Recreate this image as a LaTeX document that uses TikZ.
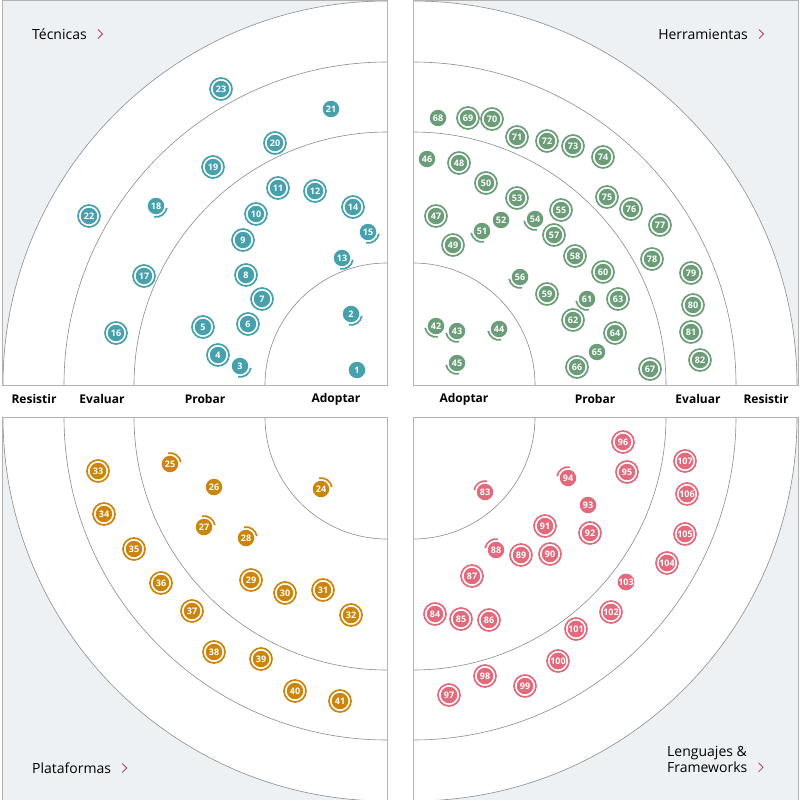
\documentclass[tikz,border=0pt]{standalone}
\usepackage{fontspec}
\setmainfont{Open Sans}
\definecolor{tech}{HTML}{47A1AD}
\definecolor{tool}{HTML}{6B9E78}
\definecolor{plat}{HTML}{CC850A}
\definecolor{lang}{HTML}{E16A7C}
\definecolor{quadbg}{HTML}{EDF1F3}
\definecolor{chevred}{HTML}{BD4257}
\tikzset{
  blip/.style={circle,fill=#1,text=white,inner sep=0pt,minimum size=16.5pt,
    font=\bfseries\fontsize{9}{9}\selectfont},
  ringline/.style={draw=#1,line width=1.7pt},
  ringarc/.style={draw=black!45,line width=0.6pt},
  quadedge/.style={draw=black!30,line width=0.8pt},
  ringlbl/.style={font=\bfseries\fontsize{12}{12}\selectfont,inner sep=0pt},
  quadtitle/.style={font=\fontsize{14}{16}\selectfont,anchor=west,align=left,inner sep=0pt},
  chevron/.style={draw=chevred,line width=0.8pt},
}
\newcommand{\radarquad}[3]{%
  \begin{scope}
    \clip #1 rectangle #2;
    \fill[quadbg] #1 rectangle #2;
    \fill[white] #3 circle[radius=384pt];
    \foreach \r in {122,253,323,384} \draw[ringarc] #3 circle[radius=\r pt];
  \end{scope}
  \draw[quadedge] #1 rectangle #2;}
\newcommand{\chev}[2][-4.5]{\draw[chevron] ([shift={(11,#1)}]#2) -- ++(4.5,4.5) -- ++(-4.5,4.5);}
\begin{document}
\begin{tikzpicture}[x=1pt,y=-1pt]
  \useasboundingbox (0,0) rectangle (800,800);
  \radarquad{(2,0)}{(387,385)}{(387,385)}
  \radarquad{(413,0)}{(798,385)}{(413,385)}
  \radarquad{(2,417)}{(387,802)}{(387,417)}
  \radarquad{(413,417)}{(798,802)}{(413,417)}

  \node[ringlbl] (lres) at (34,399) {Resistir};
  \node[ringlbl] (leva) at (102,399) {Evaluar};
  \node[ringlbl] (lpro) at (205,399) {Probar};
  \node[ringlbl] (lado) at (336,399) {Adoptar};
  \node[ringlbl] (rado) at (464,399) {Adoptar};
  \node[ringlbl] (rpro) at (595,399) {Probar};
  \node[ringlbl] (reva) at (698,399) {Evaluar};
  \node[ringlbl] (rres) at (766,399) {Resistir};

  \node[quadtitle] (ttech) at (32,34) {Técnicas};
  \node[quadtitle,anchor=east] (ttool) at (748,34) {Herramientas};
  \node[quadtitle] (tplat) at (32,768) {Plataformas};
  \node[quadtitle,anchor=north west] (tlang) at (667,746) {Lenguajes \&\\Frameworks};
  \chev{ttech.east}
  \chev{ttool.east}
  \chev{tplat.east}
  \chev[-10]{tlang.south east}

  % Tecnicas
  \foreach \n/\x/\y in {21/331/109,1/357/370}
    \node[blip=tech] (b\n) at (\x,\y) {\n};
  \foreach \n/\x/\y in {23/221/89,20/275/143,19/213/167,11/278/188,12/315/191,
      14/353/207,22/89/216,10/256/214,9/243/240,17/144/276,8/246/275,7/262/299,
      6/248/324,5/203/327,16/116/333,4/218/355}{
    \node[blip=tech] (b\n) at (\x,\y) {\n};
    \draw[ringline=tech] (b\n.center) circle[radius=11pt];}
  \foreach \n/\x/\y in {18/156/206,15/368/232,13/342/258,2/351/314,3/240/366}{
    \node[blip=tech] (b\n) at (\x,\y) {\n};
    \draw[ringline=tech] ([shift={(-100:11pt)}]b\n.center) arc[start angle=-100,end angle=-10,radius=11pt];}

  % Herramientas
  \foreach \n/\x/\y in {68/438/118,46/427/159,52/501/220,65/597/352}
    \node[blip=tool] (b\n) at (\x,\y) {\n};
  \foreach \n/\x/\y in {69/468/118,70/492/119,71/517/137,72/547/141,73/573/146,
      74/603/157,48/459/163,50/486/183,75/607/197,53/517/198,76/631/209,55/561/210,
      47/436/216,77/660/225,57/554/235,49/453/245,58/575/256,78/652/259,60/603/272,
      79/691/273,59/547/294,63/618/299,80/693/305,62/573/320,81/691/332,64/615/333,
      82/700/360,66/577/367,67/650/369}{
    \node[blip=tool] (b\n) at (\x,\y) {\n};
    \draw[ringline=tool] (b\n.center) circle[radius=11pt];}
  \foreach \n/\x/\y in {54/535/219,51/482/231,56/520/277,61/587/299,42/436/326,
      44/499/329,43/457/331,45/457/363}{
    \node[blip=tool] (b\n) at (\x,\y) {\n};
    \draw[ringline=tool] ([shift={(190:11pt)}]b\n.center) arc[start angle=190,end angle=280,radius=11pt];}

  % Plataformas
  \node[blip=plat] (b26) at (214,487) {26};
  \foreach \n/\x/\y in {29/251/580,30/285/593,31/323/590,32/351/615,33/98/471,
      34/104/514,35/134/549,36/161/583,37/192/611,38/214/652,39/261/659,
      40/295/691,41/340/701}{
    \node[blip=plat] (b\n) at (\x,\y) {\n};
    \draw[ringline=plat] (b\n.center) circle[radius=11pt];}
  \foreach \n/\x/\y in {24/321/489,25/170/464,27/204/527,28/246/538}{
    \node[blip=plat] (b\n) at (\x,\y) {\n};
    \draw[ringline=plat] ([shift={(10:11pt)}]b\n.center) arc[start angle=10,end angle=100,radius=11pt];}

  % Lenguajes
  \foreach \n/\x/\y in {93/588/505,103/626/582}
    \node[blip=lang] (b\n) at (\x,\y) {\n};
  \foreach \n/\x/\y in {84/435/614,85/461/619,86/489/620,87/472/576,89/521/555,
      90/550/554,91/545/526,92/590/533,95/627/472,96/623/442,97/449/695,98/485/676,
      99/525/686,100/558/661,101/576/629,102/611/612,104/667/563,105/685/534,
      106/687/494,107/685/461}{
    \node[blip=lang] (b\n) at (\x,\y) {\n};
    \draw[ringline=lang] (b\n.center) circle[radius=11pt];}
  \foreach \n/\x/\y in {83/485/492,88/496/550,94/568/478}{
    \node[blip=lang] (b\n) at (\x,\y) {\n};
    \draw[ringline=lang] ([shift={(80:11pt)}]b\n.center) arc[start angle=80,end angle=170,radius=11pt];}
\end{tikzpicture}
\end{document}
